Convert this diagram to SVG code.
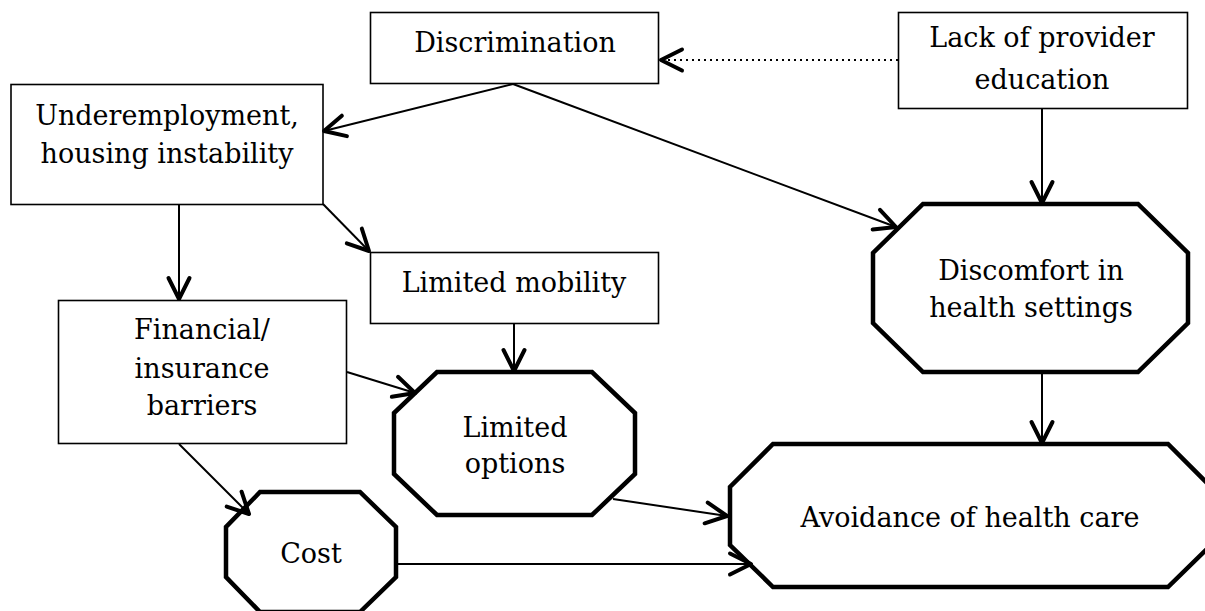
<svg xmlns="http://www.w3.org/2000/svg" width="1205" height="611" viewBox="0 0 1205 611">
<style>
.box{fill:#fff;stroke:#000;stroke-width:1.6}
.oct{fill:#fff;stroke:#000;stroke-width:4.5;stroke-linejoin:miter}
.t{font-family:"DejaVu Serif","Liberation Serif",serif;font-size:27px;fill:#000;text-anchor:middle}
.c{fill:none;stroke:#000;stroke-width:2}
.dot{fill:none;stroke:#000;stroke-width:2;stroke-dasharray:2 4}
</style>
<defs>
<marker id="ah" markerUnits="userSpaceOnUse" orient="auto" refX="0" refY="0" markerWidth="40" markerHeight="40" viewBox="-30 -20 40 40" overflow="visible">
<path d="M-21,-10.5 L0,0 L-21,10.5" fill="none" stroke="#000" stroke-width="4" stroke-linecap="round" stroke-linejoin="round"/>
</marker>
</defs>
<rect width="1205" height="611" fill="#fff"/>
<g id="discrimination">
<rect class="box" x="370.5" y="12.5" width="288" height="71"/>
<text class="t" x="515" y="52">Discrimination</text>
</g>
<g id="lack-of-provider-education">
<rect class="box" x="898.5" y="12.5" width="289" height="96"/>
<text class="t" x="1042" y="47">Lack of provider</text>
<text class="t" x="1042" y="89">education</text>
</g>
<g id="underemployment">
<rect class="box" x="11" y="84.5" width="312" height="120"/>
<text class="t" x="167" y="125">Underemployment,</text>
<text class="t" x="167" y="163">housing instability</text>
</g>
<g id="limited-mobility">
<rect class="box" x="370.5" y="252.5" width="288" height="71"/>
<text class="t" x="514" y="292">Limited mobility</text>
</g>
<g id="financial">
<rect class="box" x="58.5" y="300.5" width="288" height="143"/>
<text class="t" x="202" y="339">Financial/</text>
<text class="t" x="202" y="378">insurance</text>
<text class="t" x="202" y="415">barriers</text>
</g>
<g id="discomfort">
<polygon class="oct" points="923,204 1138,204 1188,253 1188,323 1138,372 923,372 873,323 873,253"/>
<text class="t" x="1031" y="280">Discomfort in</text>
<text class="t" x="1031" y="317">health settings</text>
</g>
<g id="limited-options">
<polygon class="oct" points="437,372 592,372 635,413 635,474 592,515 437,515 394,474 394,413"/>
<text class="t" x="515" y="437">Limited</text>
<text class="t" x="515" y="473">options</text>
</g>
<g id="cost">
<polygon class="oct" points="260,492 360,492 396,527 396,577 360,612 260,612 226,577 226,527"/>
<text class="t" x="311" y="563">Cost</text>
</g>
<g id="avoidance">
<polygon class="oct" points="773,444 1168,444 1211,487 1211,545 1168,587 773,587 730,545 730,487"/>
<text class="t" x="970" y="527">Avoidance of health care</text>
</g>
<g id="connectors">
<line class="c" x1="513" y1="84" x2="324" y2="131" marker-end="url(#ah)"/>
<line class="c" x1="513" y1="84" x2="896" y2="227" marker-end="url(#ah)"/>
<line class="dot" x1="898" y1="60" x2="661" y2="60" marker-end="url(#ah)"/>
<line class="c" x1="1042" y1="108" x2="1042" y2="203" marker-end="url(#ah)"/>
<line class="c" x1="179" y1="204" x2="179" y2="299" marker-end="url(#ah)"/>
<line class="c" x1="323" y1="204" x2="369" y2="251" marker-end="url(#ah)"/>
<line class="c" x1="514" y1="324" x2="514" y2="371" marker-end="url(#ah)"/>
<line class="c" x1="347" y1="372" x2="415" y2="393" marker-end="url(#ah)"/>
<line class="c" x1="179" y1="444" x2="249" y2="514" marker-end="url(#ah)"/>
<line class="c" x1="613" y1="499" x2="727" y2="516" marker-end="url(#ah)"/>
<line class="c" x1="396" y1="564" x2="751" y2="564" marker-end="url(#ah)"/>
<line class="c" x1="1042" y1="372" x2="1042" y2="443" marker-end="url(#ah)"/>
</g>
</svg>
